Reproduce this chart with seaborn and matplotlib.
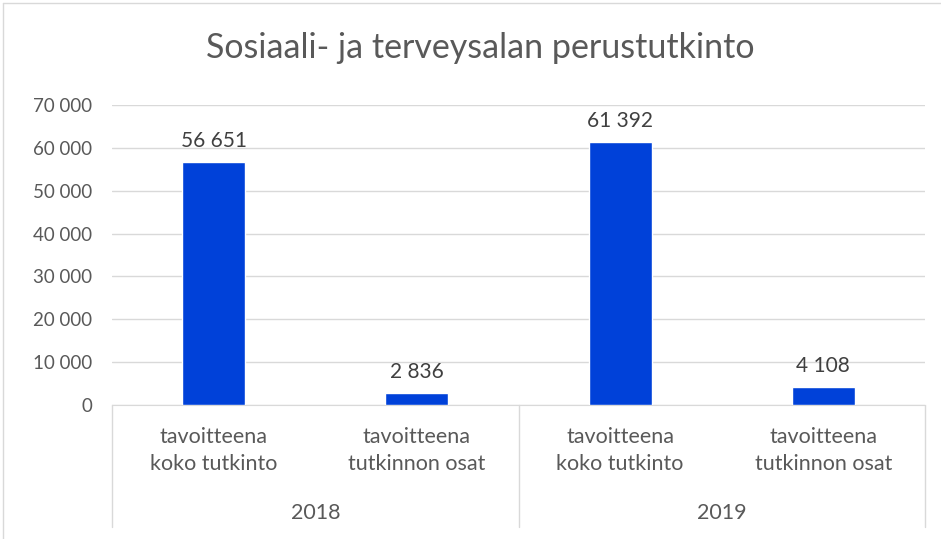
import seaborn as sns
import matplotlib.pyplot as plt
import matplotlib.transforms as mtransforms
import pandas as pd

years = ['2018', '2018', '2019', '2019']
types = ['tavoitteena\nkoko tutkinto', 'tavoitteena\ntutkinnon osat',
         'tavoitteena\nkoko tutkinto', 'tavoitteena\ntutkinnon osat']
values = [56651, 2836, 61392, 4108]
yticks = [0, 10000, 20000, 30000, 40000, 50000, 60000, 70000]

df = pd.DataFrame({'key': [y + t for y, t in zip(years, types)], 'value': values})

sns.set_style('white')
plt.rcParams['font.family'] = ['Lato', 'DejaVu Sans']
grey = '#595959'

fig = plt.figure(figsize=[9.41, 5.39], dpi=100)
ax = fig.add_axes([112 / 941, 134 / 539, 813 / 941, 300 / 539])

sns.barplot(data=df, x='key', y='value', ax=ax, color='#0041D9', width=0.31,
            saturation=1, zorder=3)

ax.set_ylim(0, 70000)
ax.set_xlim(-0.5, 3.5)
ax.set_yticks(yticks)
ax.set_yticklabels([f'{v:,}'.replace(',', ' ') for v in yticks], color=grey, fontsize=13.5)
ax.set_xticks(range(4))
ax.set_xticklabels(types, color=grey, fontsize=15.5, linespacing=1.45)
ax.tick_params(axis='x', length=0, pad=16)
ax.tick_params(axis='y', length=0, pad=14)
ax.yaxis.grid(True, color='#D9D9D9', linewidth=1, zorder=0)
ax.set_xlabel('')
ax.set_ylabel('')
for s in ['top', 'right', 'left']:
    ax.spines[s].set_visible(False)
ax.spines['bottom'].set_color('#D9D9D9')

for i, v in enumerate(values):
    ax.annotate(f'{v:,}'.replace(',', ' '), (i, v), xytext=(0, 8),
                textcoords='offset points', ha='center', va='bottom',
                color='#404040', fontsize=15)

trans = mtransforms.blended_transform_factory(ax.transData, ax.transAxes)
for xs in [-0.5, 1.5, 3.5]:
    ax.plot([xs, xs], [0, -0.407], color='#D9D9D9', lw=1, transform=trans, clip_on=False)
for xc, yr in [(0.5, '2018'), (2.5, '2019')]:
    ax.text(xc, -0.36, yr, transform=trans, ha='center', va='center', color=grey, fontsize=15.5)

fig.text(0.51, 1 - 48 / 539, 'Sosiaali- ja terveysalan perustutkinto', ha='center',
         va='center', fontsize=24.5, color=grey)

fig.add_artist(plt.Line2D([3 / 941, 3 / 941], [0, 1 - 3 / 539], color='#D9D9D9', lw=1))
fig.add_artist(plt.Line2D([3 / 941, 1], [1 - 3 / 539, 1 - 3 / 539], color='#D9D9D9', lw=1))

fig.savefig('out.png', dpi=100)
